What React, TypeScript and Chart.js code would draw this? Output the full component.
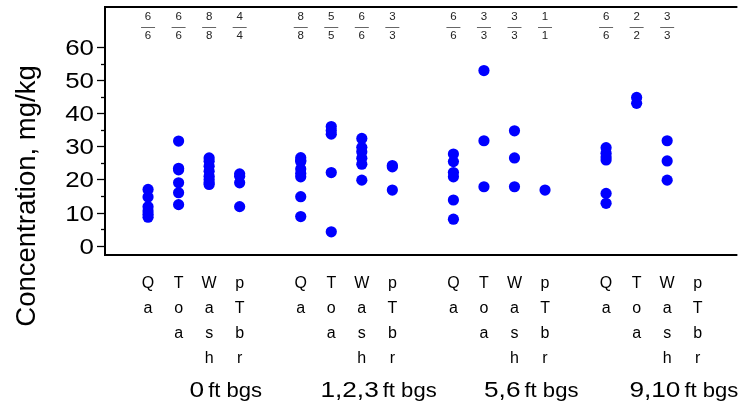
import React, { useEffect, useRef } from 'react';
import { Chart, registerables } from 'chart.js';

Chart.register(...registerables);

// Depth groups and material categories
const depthGroups = ['0', '1,2,3', '5,6', '9,10'];
const depthUnit = 'ft bgs';
const materials = ['Qa', 'Toa', 'Wash', 'pTbr'];

// Concentrations (mg/kg), per material: Qa, Toa, Wash, pTbr
const depth0 = [
  [17.0, 14.7, 11.8, 10.5, 9.5, 8.6],
  [31.6, 23.4, 22.9, 19.0, 16.0, 12.4],
  [26.5, 25.5, 24.0, 22.5, 21.0, 20.0, 19.0, 18.5],
  [21.7, 21.0, 19.0, 11.8],
];
const depth123 = [
  [26.6, 25.8, 25.4, 23.2, 21.8, 20.8, 14.8, 8.8],
  [36.0, 34.8, 33.7, 22.1, 4.2],
  [32.4, 29.7, 28.4, 26.4, 24.6, 19.8],
  [24.2, 23.8, 16.8],
];
const depth56 = [
  [27.7, 25.4, 22.1, 20.8, 13.8, 8.0],
  [52.9, 31.7, 17.8],
  [34.7, 26.5, 17.8],
  [16.8],
];
const depth910 = [
  [29.6, 27.9, 26.8, 25.9, 15.8, 12.8],
  [44.8, 43.0],
  [31.7, 25.6, 19.8],
  [],
];
const allDepths = [depth0, depth123, depth56, depth910];

const yTickValues = [0, 10, 20, 30, 40, 50, 60];
const yMinorTickValues = [5, 15, 25, 35, 45, 55];
const yTitle = 'Concentration, mg/kg';

const slotOf = (g: number, m: number) => g * (materials.length + 1) + m;

const FONT = '"Liberation Sans", Arial, sans-serif';

const decorPlugin = {
  id: 'decor',
  afterDraw(chart: any) {
    const ctx = chart.ctx as CanvasRenderingContext2D;
    const { left, right, top, bottom } = chart.chartArea;
    const xs = chart.scales.x;
    const ys = chart.scales.y;
    ctx.save();

    // frame: left, top, bottom
    ctx.strokeStyle = '#000';
    ctx.lineWidth = 2;
    ctx.beginPath();
    ctx.moveTo(right, top);
    ctx.lineTo(left, top);
    ctx.lineTo(left, bottom);
    ctx.lineTo(right, bottom);
    ctx.stroke();

    // y ticks
    ctx.lineWidth = 1.3;
    ctx.fillStyle = '#000';
    ctx.textAlign = 'right';
    ctx.textBaseline = 'middle';
    ctx.font = `22.5px ${FONT}`;
    for (const v of yTickValues) {
      const y = Math.round(ys.getPixelForValue(v)) + 0.5;
      ctx.beginPath();
      ctx.moveTo(left - 8, y);
      ctx.lineTo(left, y);
      ctx.stroke();
      ctx.save();
      ctx.translate(left - 11, y + 1);
      ctx.scale(1.15, 1);
      ctx.fillText(String(v), 0, 0);
      ctx.restore();
    }
    for (const v of yMinorTickValues) {
      const y = Math.round(ys.getPixelForValue(v)) + 0.5;
      ctx.beginPath();
      ctx.moveTo(left - 4, y);
      ctx.lineTo(left, y);
      ctx.stroke();
    }

    // y title
    ctx.save();
    ctx.translate(35, 196);
    ctx.rotate(-Math.PI / 2);
    ctx.textAlign = 'center';
    ctx.textBaseline = 'alphabetic';
    ctx.font = `27.5px ${FONT}`;
    ctx.fillText(yTitle, 0, 0);
    ctx.restore();

    // fractions + x labels
    allDepths.forEach((grp, g) => {
      grp.forEach((vals, m) => {
        const x = xs.getPixelForValue(slotOf(g, m));
        if (vals.length > 0) {
          ctx.font = `11.5px ${FONT}`;
          ctx.textAlign = 'center';
          ctx.textBaseline = 'alphabetic';
          ctx.fillStyle = '#222';
          ctx.fillText(String(vals.length), x, 19.5);
          ctx.fillText(String(vals.length), x, 38.5);
          ctx.strokeStyle = '#666';
          ctx.lineWidth = 1;
          ctx.beginPath();
          ctx.moveTo(x - 7, 27.5);
          ctx.lineTo(x + 7, 27.5);
          ctx.stroke();
        }
        ctx.fillStyle = '#000';
        ctx.font = `16px ${FONT}`;
        ctx.textAlign = 'center';
        ctx.textBaseline = 'alphabetic';
        const letters = materials[m].split('');
        letters.forEach((ch, i) => {
          ctx.fillText(ch, x, 287.5 + i * 25.3);
        });
      });

      // group label
      const cx =
        (xs.getPixelForValue(slotOf(g, 0)) + xs.getPixelForValue(slotOf(g, materials.length - 1))) / 2 + 32;
      const numScale = 1.22;
      const unitScale = 1.05;
      ctx.font = `21.5px ${FONT}`;
      const wNum = ctx.measureText(depthGroups[g]).width * numScale;
      ctx.font = `21px ${FONT}`;
      const wUnit = ctx.measureText(depthUnit).width * unitScale;
      const gap = 4;
      const total = wNum + gap + wUnit;
      const x0 = cx - total / 2;
      ctx.textAlign = 'left';
      ctx.fillStyle = '#000';
      ctx.save();
      ctx.translate(x0, 397);
      ctx.scale(numScale, 1);
      ctx.font = `21.5px ${FONT}`;
      ctx.fillText(depthGroups[g], 0, 0);
      ctx.restore();
      ctx.save();
      ctx.translate(x0 + wNum + gap, 397);
      ctx.scale(unitScale, 1);
      ctx.font = `21px ${FONT}`;
      ctx.fillText(depthUnit, 0, 0);
      ctx.restore();
    });

    ctx.restore();
  },
};

export default function App() {
  const ref = useRef<HTMLCanvasElement | null>(null);

  useEffect(() => {
    if (!ref.current) return;
    const datasets = allDepths.map((grp, g) => ({
      label: depthGroups[g] + ' ' + depthUnit,
      data: grp.flatMap((vals, m) => vals.map((v) => ({ x: slotOf(g, m), y: v }))),
      backgroundColor: '#0000ff',
      borderWidth: 0,
      pointRadius: 5.6,
      pointHoverRadius: 5.6,
    }));
    const chart = new Chart(ref.current, {
      type: 'scatter',
      data: { datasets },
      options: {
        animation: false,
        responsive: false,
        devicePixelRatio: 1,
        layout: { padding: { left: 105, right: 0, top: 7, bottom: 152 } },
        plugins: { legend: { display: false }, tooltip: { enabled: false } },
        events: [],
        scales: {
          x: { type: 'linear', min: -1.41, max: 19.3, display: false },
          y: { type: 'linear', min: -2.81, max: 72.1, display: false },
        },
      },
      plugins: [decorPlugin],
    });
    return () => chart.destroy();
  }, []);

  return (
    <div style={{ position: 'absolute', left: 0, top: 0, width: 743, height: 407, background: '#fff' }}>
      <canvas ref={ref} width={743} height={407} style={{ width: 743, height: 407, display: 'block' }} />
    </div>
  );
}
